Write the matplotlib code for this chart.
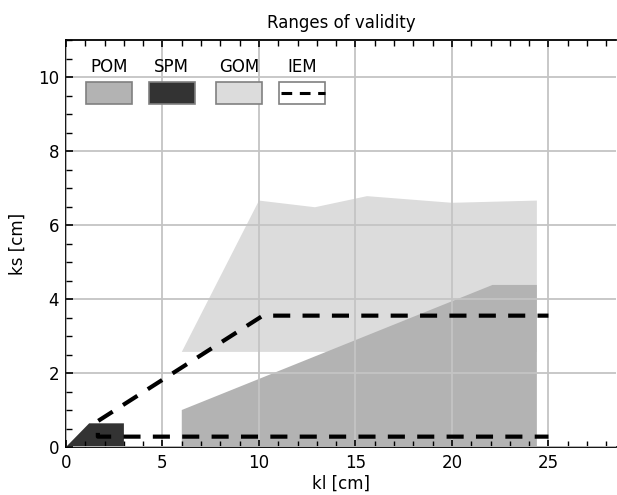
import matplotlib
matplotlib.use("Agg")
import matplotlib.pyplot as plt
from matplotlib.patches import Polygon, Rectangle
from matplotlib.lines import Line2D
from matplotlib.ticker import MultipleLocator

plt.rcParams['font.family'] = ['DejaVu Sans']

# Validity regions (kl, ks) in cm
gom_kl = [6.0, 10.0, 12.9, 15.6, 20.0, 24.4, 24.4]
gom_ks = [2.57, 6.66, 6.48, 6.78, 6.60, 6.66, 2.57]

pom_kl = [6.0, 6.0, 22.1, 24.4, 24.4]
pom_ks = [0.0, 1.0, 4.38, 4.38, 0.0]

spm_kl = [0.0, 1.2, 3.0, 3.0]
spm_ks = [0.0, 0.64, 0.64, 0.0]

iem_kl = [25.0, 1.65, 1.65, 10.2, 25.0]
iem_ks = [0.28, 0.28, 0.70, 3.55, 3.55]

legend_names = ["POM", "SPM", "GOM", "IEM"]
colors = {"POM": "#b3b3b3", "SPM": "#333333", "GOM": "#dcdcdc"}

fig = plt.figure(figsize=(6.17, 4.95), dpi=100)
ax = fig.add_axes([66 / 617, 48 / 495, 550 / 617, 407 / 495])

ax.add_patch(Polygon(list(zip(gom_kl, gom_ks)), closed=True,
                     facecolor=colors["GOM"], edgecolor="none", zorder=1))
ax.add_patch(Polygon(list(zip(pom_kl, pom_ks)), closed=True,
                     facecolor=colors["POM"], edgecolor="none", zorder=1.1))
ax.add_patch(Polygon(list(zip(spm_kl, spm_ks)), closed=True,
                     facecolor=colors["SPM"], edgecolor="none", zorder=1.2))
ax.plot(iem_kl, iem_ks, color="black", lw=3, linestyle=(0.8, (4.1, 2.95)),
        solid_capstyle="butt", dash_capstyle="butt", zorder=4)

ax.set_xlim(0, 28.5)
ax.set_ylim(0, 11)
ax.xaxis.set_major_locator(MultipleLocator(5))
ax.xaxis.set_minor_locator(MultipleLocator(1))
ax.yaxis.set_major_locator(MultipleLocator(2))
ax.yaxis.set_minor_locator(MultipleLocator(0.5))
ax.set_axisbelow(False)
ax.grid(True, which="major", color="#c4c4c4", lw=1.3, zorder=2)
ax.tick_params(which="both", direction="in", top=True, right=False,
               labelsize=12, color="black")
ax.tick_params(which="major", length=5, width=1.2, pad=5)
ax.tick_params(which="minor", length=4, width=1.0)
ax.spines["right"].set_visible(False)
for s in ("left", "bottom", "top"):
    ax.spines[s].set_linewidth(1.3)

ax.set_xlabel("kl [cm]", fontsize=12, labelpad=2)
ax.set_ylabel("ks [cm]", fontsize=12, labelpad=8)
ax.set_title("Ranges of validity", fontsize=12, pad=9)

# key boxes with labels above them
centers = [0.078, 0.192, 0.315, 0.429]
bw, bh, by = 0.0836, 0.054, 0.843
for name, cx in zip(legend_names, centers):
    ax.text(cx, 0.934, name, transform=ax.transAxes, ha="center",
            va="center", fontsize=12, zorder=6)
    fc = colors.get(name, "white")
    ax.add_patch(Rectangle((cx - bw / 2, by), bw, bh, transform=ax.transAxes,
                           facecolor=fc, edgecolor="#808080", lw=1.2,
                           zorder=6))
    if name == "IEM":
        ax.add_line(Line2D([cx - bw / 2 + 0.004, cx + bw / 2], [by + bh / 2] * 2,
                           transform=ax.transAxes, color="black", lw=2.2,
                           dashes=(3.5, 2.5), dash_capstyle="butt", zorder=7))

fig.savefig("out.png", dpi=100)
